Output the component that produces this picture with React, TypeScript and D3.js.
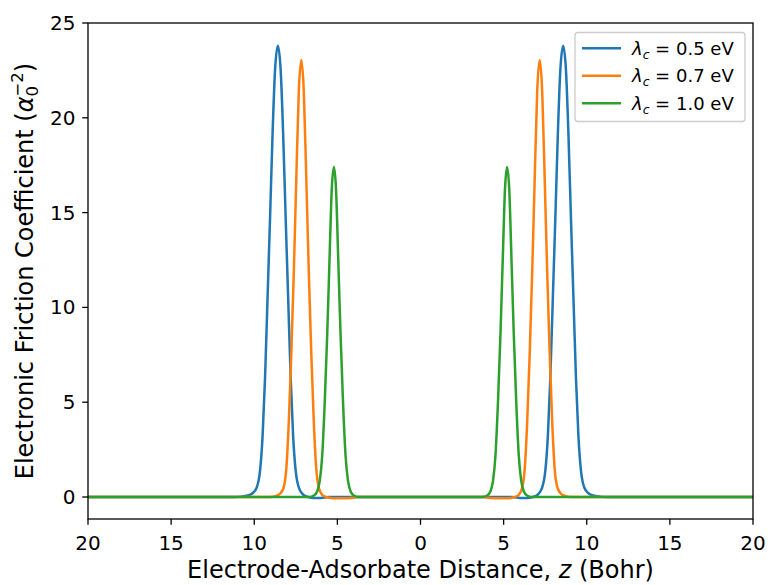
import React from "react";
import * as d3 from "d3";

// z in Bohr, friction in a0^-2
const blueZ = [-20, -11.2, -10.8, -10.4, -10.1, -9.85, -9.65, -9.5, -9.35, -9.2, -9.05, -8.9, -8.75, -8.58, -8.41, -8.26, -8.11, -7.96, -7.81, -7.66, -7.51, -7.3, -7.05, -6.75, -6.4, -6.0, -5.5,
  5.5, 6.0, 6.4, 6.75, 7.05, 7.3, 7.51, 7.66, 7.81, 7.96, 8.11, 8.26, 8.41, 8.58, 8.75, 8.9, 9.05, 9.2, 9.35, 9.5, 9.65, 9.85, 10.1, 10.4, 10.8, 11.2, 20];
const blueVals = [0, 0, 0.02, 0.08, 0.2, 0.5, 1.4, 3.2, 6.3, 10.5, 14.7, 19.1, 22.5, 23.8, 22.5, 19.1, 14.7, 10.5, 6.3, 3.2, 1.4, 0.45, 0.12, 0.0, -0.05, -0.05, 0,
  0, -0.05, -0.05, 0.0, 0.12, 0.45, 1.4, 3.2, 6.3, 10.5, 14.7, 19.1, 22.5, 23.8, 22.5, 19.1, 14.7, 10.5, 6.3, 3.2, 1.4, 0.5, 0.2, 0.08, 0.02, 0, 0];

const orangeZ = [-20, -9.07, -8.67, -8.42, -8.22, -8.07, -7.92, -7.77, -7.62, -7.47, -7.32, -7.17, -7.02, -6.87, -6.72, -6.57, -6.42, -6.27, -6.12, -5.92, -5.67, -5.3, -4.8, -4.2, -3.7,
  3.7, 4.2, 4.8, 5.3, 5.67, 5.92, 6.12, 6.27, 6.42, 6.57, 6.72, 6.87, 7.02, 7.17, 7.32, 7.47, 7.62, 7.77, 7.92, 8.07, 8.22, 8.42, 8.67, 9.07, 20];
const orangeVals = [0, 0, 0.06, 0.2, 0.55, 1.5, 4.0, 7.6, 11.9, 16.8, 21.4, 23.05, 21.4, 16.8, 11.9, 7.6, 4.0, 1.5, 0.5, 0.12, 0.0, -0.06, -0.07, -0.05, 0,
  0, -0.05, -0.07, -0.06, 0.0, 0.12, 0.5, 1.5, 4.0, 7.6, 11.9, 16.8, 21.4, 23.05, 21.4, 16.8, 11.9, 7.6, 4.0, 1.5, 0.55, 0.2, 0.06, 0, 0];

const greenZ = [-20, -6.71, -6.41, -6.21, -6.06, -5.91, -5.76, -5.61, -5.47, -5.34, -5.21, -5.08, -4.95, -4.81, -4.66, -4.51, -4.36, -4.21, -4.01, -3.71,
  3.71, 4.01, 4.21, 4.36, 4.51, 4.66, 4.81, 4.95, 5.08, 5.21, 5.34, 5.47, 5.61, 5.76, 5.91, 6.06, 6.21, 6.41, 6.71, 20];
const greenVals = [0, 0, 0.08, 0.3, 0.85, 2.2, 5.0, 8.6, 12.6, 16.2, 17.4, 16.2, 12.6, 8.6, 5.0, 2.2, 0.85, 0.3, 0.08, 0,
  0, 0.08, 0.3, 0.85, 2.2, 5.0, 8.6, 12.6, 16.2, 17.4, 16.2, 12.6, 8.6, 5.0, 2.2, 0.85, 0.3, 0.08, 0, 0];

const seriesNames = ["0.5", "0.7", "1.0"];
const seriesColors = ["#1f77b4", "#ff7f0e", "#2ca02c"];

const xTicks = [-20, -15, -10, -5, 0, 5, 10, 15, 20];
const xTickLabels = ["20", "15", "10", "5", "0", "5", "10", "15", "20"];
const yTicks = [0, 5, 10, 15, 20, 25];

const W = 772, H = 585;
const m = { left: 88, right: 753, top: 23, bottom: 519 };
const font = "DejaVu Sans, sans-serif";

export default function App() {
  const x = d3.scaleLinear().domain([-20, 20]).range([m.left, m.right]);
  const y = d3.scaleLinear().domain([-1.16, 25]).range([m.bottom, m.top]);
  const line = d3.line<[number, number]>()
    .x(d => x(d[0]))
    .y(d => y(d[1]))
    .curve(d3.curveMonotoneX);

  const series = [
    d3.zip(blueZ, blueVals) as [number, number][],
    d3.zip(orangeZ, orangeVals) as [number, number][],
    d3.zip(greenZ, greenVals) as [number, number][],
  ];

  const yMid = (m.top + m.bottom) / 2;

  return (
    <svg width={W} height={H} style={{ position: "absolute", left: 0, top: 0, background: "#fff" }} fontFamily={font}>
      <defs>
        <clipPath id="plot">
          <rect x={m.left} y={m.top} width={m.right - m.left} height={m.bottom - m.top} />
        </clipPath>
      </defs>
      <g clipPath="url(#plot)">
        {series.map((s, i) => (
          <path key={i} d={line(s) || ""} fill="none" stroke={seriesColors[i]} strokeWidth={2.5} strokeLinejoin="round" />
        ))}
      </g>

      {/* frame */}
      <rect x={m.left} y={m.top} width={m.right - m.left} height={m.bottom - m.top} fill="none" stroke="#000" strokeWidth={1.3} />

      {/* x axis */}
      {xTicks.map((t, i) => (
        <g key={i}>
          <line x1={x(t)} x2={x(t)} y1={m.bottom} y2={m.bottom + 5.8} stroke="#000" strokeWidth={1.3} />
          <text x={x(t)} y={550} textAnchor="middle" fontSize={20}>{xTickLabels[i]}</text>
        </g>
      ))}
      <text x={(m.left + m.right) / 2} y={578} textAnchor="middle" fontSize={24}>
        Electrode-Adsorbate Distance, <tspan fontStyle="italic">z</tspan> (Bohr)
      </text>

      {/* y axis */}
      {yTicks.map(t => (
        <g key={t}>
          <line x1={m.left - 5.8} x2={m.left} y1={y(t)} y2={y(t)} stroke="#000" strokeWidth={1.3} />
          <text x={m.left - 12.5} y={y(t) + 7} textAnchor="end" fontSize={20}>{t}</text>
        </g>
      ))}
      <text transform={`translate(33,${yMid}) rotate(-90)`} textAnchor="middle" fontSize={24}>
        Electronic Friction Coefficient (<tspan fontStyle="italic">α</tspan>
        <tspan fontSize={16.5} dy={5}>0</tspan>
        <tspan fontSize={16.5} dx={-10.5} dy={-15}>−2</tspan>
        <tspan dy={10}>)</tspan>
      </text>

      {/* legend */}
      <rect x={575} y={32.5} width={170} height={89} rx={3} fill="#fff" fillOpacity={0.8} stroke="#cccccc" strokeWidth={1.3} />
      {seriesNames.map((n, i) => {
        const cy = 48.3 + i * 27.5;
        return (
          <g key={n}>
            <line x1={582} x2={621} y1={cy} y2={cy} stroke={seriesColors[i]} strokeWidth={2.5} />
            <text y={cy + 6.5} fontSize={18}>
              <tspan x={632} fontStyle="italic">λ</tspan>
              <tspan fontStyle="italic" fontSize={12.5} dy={4}>c</tspan>
              <tspan x={655} dy={-4}>=</tspan>
              <tspan x={676}>{n} eV</tspan>
            </text>
          </g>
        );
      })}
    </svg>
  );
}
